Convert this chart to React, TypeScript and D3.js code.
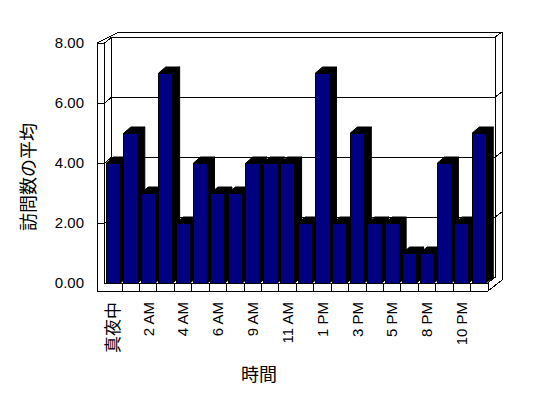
import React from 'react';
import * as d3 from 'd3';

// hours shown on the category axis (only every other one gets a label)
const categories = [
  '真夜中', '1 AM', '2 AM', '3 AM', '4 AM', '5 AM', '6 AM', '7 AM', '9 AM', '10 AM', '11 AM',
  '正午', '1 PM', '2 PM', '3 PM', '4 PM', '5 PM', '6 PM', '8 PM', '9 PM', '10 PM', '11 PM',
];
const visits = [4, 5, 3, 7, 2, 4, 3, 3, 4, 4, 4, 2, 7, 2, 5, 2, 2, 1, 1, 4, 2, 5];
const yTicks = [0, 2, 4, 6, 8];
const yTitle = '訪問数の平均';
const xTitle = '時間';

const W = 548;
const H = 398;
// depth of the 3d box: bars/inner wall and wall thickness
const D = {dx: 7, dy: -6};
const T = {dx: 7, dy: -5};
const wallLeft = 97;
const floorH = 8;

const latin = '"Liberation Sans", Arial, sans-serif';
const cjk = '"Noto Sans CJK JP", "Liberation Sans", sans-serif';

export default function App() {
  const x = d3.scaleBand<string>().domain(categories).range([104.7, 488]).paddingInner(0.2).paddingOuter(0.1);
  const y = d3.scaleLinear().domain([0, 8]).range([283, 43]);
  const fmt = d3.format('.2f');

  const x0 = x.range()[0];
  const x1 = x.range()[1];
  const yTop = y(8);
  const yBase = y(0);
  const yBottom = yBase + floorH;
  const half = (x.step() - x.bandwidth()) / 2;

  const line = d3.line();

  return (
    <svg width={W} height={H} style={{position: 'absolute', left: 0, top: 0, background: '#fff'}}>
      <g fill="none" stroke="#000" strokeWidth={1} shapeRendering="crispEdges">
        {/* back wall */}
        <rect x={x0 + D.dx} y={yTop + D.dy} width={x1 - x0} height={yBase - yTop} fill="#fff" />
        {/* gridlines, running over the side wall and the back wall */}
        {yTicks.filter((t) => t > 0 && t < 8).map((t) => (
          <path
            key={t}
            d={line([
              [wallLeft, y(t)],
              [x0, y(t)],
              [x0 + D.dx, y(t) + D.dy],
              [x1 + D.dx, y(t) + D.dy],
              [x1 + D.dx + T.dx, y(t) + D.dy + T.dy],
            ])!}
          />
        ))}
        {/* outer outline of the box */}
        <path
          d={line([
            [wallLeft, yBottom],
            [wallLeft, yTop],
            [x0 + D.dx + T.dx, yTop + D.dy + T.dy],
            [x1 + D.dx + T.dx, yTop + D.dy + T.dy],
            [x1 + D.dx + T.dx, yBottom + D.dy + T.dy],
            [x1, yBottom],
            [wallLeft, yBottom],
          ])!}
        />
        <path d={line([[wallLeft, yTop], [x0, yTop], [x0 + D.dx, yTop + D.dy]])!} />
        <path d={line([[x1 + D.dx, yTop + D.dy], [x1 + D.dx + T.dx, yTop + D.dy + T.dy]])!} />
        <path d={line([[x0, yTop], [x0, yBase], [x1, yBase], [x1 + D.dx, yBase + D.dy]])!} />
        <path d={line([[x1, yBase], [x1, yBottom]])!} />
        {/* category boxes in the floor */}
        {categories.slice(1).map((c) => (
          <line key={c} x1={x(c)! - half} x2={x(c)! - half} y1={yBase} y2={yBottom} />
        ))}
      </g>

      {/* bars */}
      <g stroke="#000" strokeWidth={1}>
        {categories.map((c, i) => {
          const bx = x(c)!;
          const bw = x.bandwidth();
          const top = y(visits[i]);
          return (
            <g key={c}>
              <path
                fill="#000"
                d={line([
                  [bx + bw, top],
                  [bx + bw + D.dx, top + D.dy],
                  [bx + bw + D.dx, yBase + D.dy],
                  [bx + bw, yBase],
                ])! + 'Z'}
              />
              <path
                fill="#000"
                d={line([
                  [bx, top],
                  [bx + D.dx, top + D.dy],
                  [bx + bw + D.dx, top + D.dy],
                  [bx + bw, top],
                ])! + 'Z'}
              />
              <rect x={bx} y={top} width={bw} height={yBase - top} fill="#000080" shapeRendering="crispEdges" />
            </g>
          );
        })}
      </g>

      {/* y tick labels */}
      <g fontFamily={latin} fontSize={15} textAnchor="end">
        {yTicks.map((t) => (
          <text key={t} x={84} y={y(t)} dy="0.35em">{fmt(t)}</text>
        ))}
      </g>

      {/* x tick labels */}
      <g textAnchor="end">
        {categories.map((c, i) =>
          i % 2 === 0 ? (
            <text
              key={c}
              transform={`translate(${x(c)! + x.bandwidth() / 2},302) rotate(-90)`}
              dy="0.35em"
              fontFamily={/[A-Za-z]/.test(c) ? latin : cjk}
              fontSize={/[A-Za-z]/.test(c) ? 15 : 17}
            >
              {c}
            </text>
          ) : null
        )}
      </g>

      <text transform="translate(29,177) rotate(-90)" textAnchor="middle" dy="0.35em" fontFamily={cjk} fontSize={18}>
        {yTitle}
      </text>
      <text x={259} y={375} textAnchor="middle" dy="0.35em" fontFamily={cjk} fontSize={18}>
        {xTitle}
      </text>
    </svg>
  );
}
